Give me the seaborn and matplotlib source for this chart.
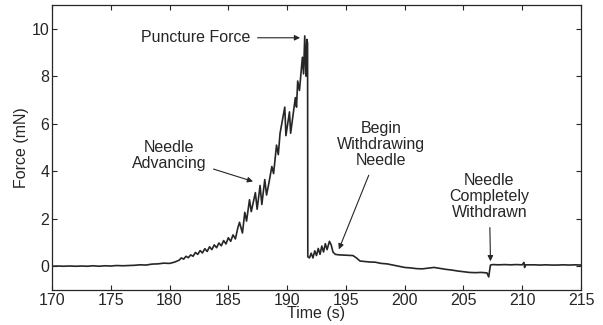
import matplotlib
matplotlib.use("Agg")
import matplotlib.pyplot as plt
import seaborn as sns

# needle insertion trace
time_s = [
    170.0, 170.5, 171.0, 171.5, 172.0, 172.5, 173.0, 173.5, 174.0, 174.5,
    175.0, 175.5, 176.0, 176.5, 177.0, 177.5, 178.0, 178.5, 179.0, 179.5,
    180.0, 180.4, 180.8, 181.0, 181.2, 181.4, 181.6, 181.8, 182.0, 182.2,
    182.4, 182.6, 182.8, 183.0, 183.2, 183.4, 183.6, 183.8, 184.0, 184.2,
    184.4, 184.6, 184.8, 185.0, 185.2, 185.4, 185.6, 185.8, 185.95, 186.2,
    186.4, 186.55, 186.8, 186.95, 187.3, 187.45, 187.7, 187.85, 188.1, 188.25,
    188.45, 188.7, 188.85, 189.1, 189.25, 189.4, 189.8, 189.9, 190.2, 190.3,
    190.7, 190.8, 190.9, 191.05, 191.3, 191.4, 191.5, 191.6, 191.68, 191.74,
    191.76, 191.9, 192.05, 192.2, 192.35, 192.5, 192.65, 192.8, 192.95, 193.1,
    193.25, 193.4, 193.6, 193.75, 193.9, 194.1, 194.4, 194.8, 195.2, 195.6,
    195.9, 196.2, 196.6, 197.0, 197.5, 198.0, 198.5, 199.0, 199.5, 200.0,
    200.5, 201.0, 201.5, 202.0, 202.5, 203.0, 203.5, 204.0, 204.5, 205.0,
    205.5, 206.0, 206.5, 207.0, 207.15, 207.22, 207.3, 207.5, 208.0, 208.5,
    209.0, 209.5, 210.0, 210.15, 210.2, 210.3, 211.0, 211.5, 212.0, 212.5,
    213.0, 213.5, 214.0, 214.5, 215.0,
]
force_mN = [
    0.00, 0.01, 0.00, 0.01, 0.00, 0.01, 0.00, 0.02, 0.00, 0.02,
    0.01, 0.03, 0.02, 0.03, 0.04, 0.06, 0.05, 0.09, 0.10, 0.13,
    0.12, 0.17, 0.25, 0.35, 0.30, 0.42, 0.36, 0.48, 0.42, 0.58,
    0.50, 0.66, 0.56, 0.74, 0.62, 0.82, 0.70, 0.90, 0.78, 0.98,
    0.86, 1.08, 0.94, 1.20, 1.05, 1.32, 1.15, 1.60, 1.85, 1.40,
    2.27, 1.90, 2.80, 2.30, 3.10, 2.40, 3.40, 2.60, 3.65, 3.00,
    3.50, 4.20, 3.90, 5.10, 4.70, 5.60, 6.70, 5.50, 6.50, 5.60,
    7.10, 6.70, 7.80, 7.40, 8.80, 8.10, 9.70, 8.00, 9.55, 9.40,
    0.40, 0.35, 0.55, 0.35, 0.65, 0.45, 0.75, 0.50, 0.85, 0.60,
    0.95, 0.70, 1.05, 0.90, 0.60, 0.50, 0.48, 0.47, 0.46, 0.45,
    0.35, 0.22, 0.20, 0.18, 0.17, 0.12, 0.10, 0.05, 0.00, -0.05,
    -0.07, -0.10, -0.11, -0.08, -0.05, -0.09, -0.13, -0.16, -0.20, -0.23,
    -0.26, -0.27, -0.26, -0.28, -0.45, -0.20, 0.05, 0.07, 0.06, 0.07,
    0.06, 0.07, 0.06, 0.16, -0.05, 0.06, 0.06, 0.05, 0.06, 0.05,
    0.05, 0.06, 0.05, 0.06, 0.05,
]

x_ticks = [170, 175, 180, 185, 190, 195, 200, 205, 210, 215]
y_ticks = [0, 2, 4, 6, 8, 10]

ink = "#262626"
fs = 11.5

sns.set_style("ticks")
plt.rcParams["font.family"] = ["Liberation Sans", "DejaVu Sans"]
plt.rcParams["xtick.direction"] = "in"
plt.rcParams["ytick.direction"] = "in"

fig = plt.figure(figsize=(6.03, 3.25), dpi=100)
ax = fig.add_axes([52 / 603, 1 - 290 / 325, 529 / 603, 285 / 325])

sns.lineplot(x=time_s, y=force_mN, ax=ax, color=ink, linewidth=1.2,
             sort=False, estimator=None)

ax.set_xlim(170, 215)
ax.set_ylim(-1, 11)
ax.set_xticks(x_ticks)
ax.set_yticks(y_ticks)
ax.tick_params(axis="both", which="both", top=True, right=True, length=3.5,
               width=0.8, color=ink, labelcolor=ink, labelsize=fs, pad=2)
for sp in ax.spines.values():
    sp.set_visible(True)
    sp.set_color(ink)
    sp.set_linewidth(0.9)

ax.set_xlabel("Time (s)", fontsize=fs, color=ink, labelpad=-1)
ax.set_ylabel("Force (mN)", fontsize=fs, color=ink, labelpad=2)

arrow = dict(arrowstyle="-|>", color=ink, lw=0.8, mutation_scale=8,
             shrinkA=3, shrinkB=0)
txt = dict(fontsize=fs, color=ink, ha="center", va="center",
           linespacing=1.1)

ax.annotate("Puncture Force", xy=(191.1, 9.62), xytext=(182.2, 9.62),
            arrowprops=arrow, **txt)
ax.annotate("Needle\nAdvancing", xy=(187.1, 3.57), xytext=(179.95, 4.68),
            arrowprops=arrow, **txt)
ax.annotate("Begin\nWithdrawing\nNeedle", xy=(194.4, 0.71), xytext=(198.0, 5.13),
            arrowprops=arrow, **txt)
ax.annotate("Needle\nCompletely\nWithdrawn", xy=(207.3, 0.21), xytext=(207.2, 2.94),
            arrowprops=arrow, **txt)

fig.savefig("out.png", dpi=100)
